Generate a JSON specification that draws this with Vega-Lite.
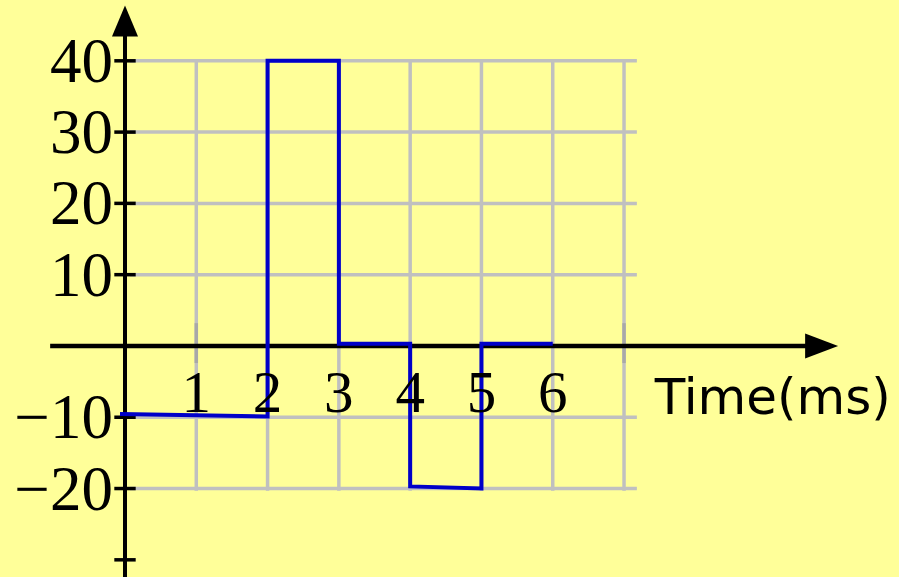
{
  "$schema": "https://vega.github.io/schema/vega-lite/v6.json",
  "width": 899,
  "height": 577,
  "autosize": {"type": "none"},
  "padding": 0,
  "background": "#FFFF99",
  "config": {"view": {"stroke": null, "fill": "#FFFF99"}},
  "datasets": {
    "signal": [
      {"i": 0, "t": -0.07, "v": -9.55},
      {"i": 1, "t": 2, "v": -9.9},
      {"i": 2, "t": 2, "v": 40},
      {"i": 3, "t": 3, "v": 40},
      {"i": 4, "t": 3, "v": 0.3},
      {"i": 5, "t": 4, "v": 0.3},
      {"i": 6, "t": 4, "v": -19.7},
      {"i": 7, "t": 5, "v": -20},
      {"i": 8, "t": 5, "v": 0.3},
      {"i": 9, "t": 6, "v": 0.3}
    ],
    "hgrid": [{"v": -20}, {"v": -10}, {"v": 10}, {"v": 20}, {"v": 30}, {"v": 40}],
    "vgrid": [{"t": 1}, {"t": 2}, {"t": 3}, {"t": 4}, {"t": 5}, {"t": 6}, {"t": 7}],
    "yticks": [{"v": 40}, {"v": 30}, {"v": 20}, {"v": 10}, {"v": -10}, {"v": -20}, {"v": -30}],
    "ylabels": [
      {"v": 40, "label": "40"},
      {"v": 30, "label": "30"},
      {"v": 20, "label": "20"},
      {"v": 10, "label": "10"},
      {"v": -10, "label": "−10"},
      {"v": -20, "label": "−20"}
    ],
    "xlabels": [
      {"t": 1, "label": "1"},
      {"t": 2, "label": "2"},
      {"t": 3, "label": "3"},
      {"t": 4, "label": "4"},
      {"t": 5, "label": "5"},
      {"t": 6, "label": "6"}
    ]
  },
  "layer": [
    {
      "data": {"name": "hgrid"},
      "mark": {"type": "rule", "color": "#C0C0C0", "strokeWidth": 3.5},
      "encoding": {
        "x": {"datum": 0.07, "type": "quantitative", "scale": {"domain": [-1.7534, 10.857], "nice": false, "zero": false}, "axis": null},
        "x2": {"datum": 7.18},
        "y": {"field": "v", "type": "quantitative", "scale": {"domain": [-32.41, 48.53], "nice": false, "zero": false}, "axis": null}
      }
    },
    {
      "data": {"name": "vgrid"},
      "mark": {"type": "rule", "color": "#C0C0C0", "strokeWidth": 3.5},
      "encoding": {
        "x": {"field": "t", "type": "quantitative", "scale": {"domain": [-1.7534, 10.857], "nice": false, "zero": false}, "axis": null},
        "y": {"datum": -20.3, "type": "quantitative", "scale": {"domain": [-32.41, 48.53], "nice": false, "zero": false}, "axis": null},
        "y2": {"datum": 40}
      }
    },
    {
      "data": {"values": [{"t": 1}, {"t": 7}]},
      "mark": {"type": "rule", "color": "#A8A8A8", "strokeWidth": 3.5},
      "encoding": {
        "x": {"field": "t", "type": "quantitative", "scale": {"domain": [-1.7534, 10.857], "nice": false, "zero": false}, "axis": null},
        "y": {"datum": -2.4, "type": "quantitative", "scale": {"domain": [-32.41, 48.53], "nice": false, "zero": false}, "axis": null},
        "y2": {"datum": 3.2}
      }
    },
    {
      "data": {"name": "yticks"},
      "mark": {"type": "rule", "color": "black", "strokeWidth": 3.5},
      "encoding": {
        "x": {"datum": -0.15, "type": "quantitative", "scale": {"domain": [-1.7534, 10.857], "nice": false, "zero": false}, "axis": null},
        "x2": {"datum": 0.15},
        "y": {"field": "v", "type": "quantitative", "scale": {"domain": [-32.41, 48.53], "nice": false, "zero": false}, "axis": null}
      }
    },
    {
      "data": {"values": [{}]},
      "mark": {"type": "rule", "color": "black", "strokeWidth": 4},
      "encoding": {
        "x": {"datum": 0, "type": "quantitative", "scale": {"domain": [-1.7534, 10.857], "nice": false, "zero": false}, "axis": null},
        "y": {"datum": -32.41, "type": "quantitative", "scale": {"domain": [-32.41, 48.53], "nice": false, "zero": false}, "axis": null},
        "y2": {"datum": 43.5}
      }
    },
    {
      "data": {"values": [{}]},
      "mark": {"type": "rule", "color": "black", "strokeWidth": 4.5},
      "encoding": {
        "x": {"datum": -1.05, "type": "quantitative", "scale": {"domain": [-1.7534, 10.857], "nice": false, "zero": false}, "axis": null},
        "x2": {"datum": 9.6},
        "y": {"datum": 0, "type": "quantitative", "scale": {"domain": [-32.41, 48.53], "nice": false, "zero": false}, "axis": null}
      }
    },
    {
      "data": {"values": [{}]},
      "mark": {"type": "point", "shape": "M0,-1L0.42,0L-0.42,0Z", "size": 3844, "filled": true, "color": "black", "opacity": 1, "strokeWidth": 0},
      "encoding": {
        "x": {"datum": 0, "type": "quantitative", "scale": {"domain": [-1.7534, 10.857], "nice": false, "zero": false}, "axis": null},
        "y": {"datum": 43.4, "type": "quantitative", "scale": {"domain": [-32.41, 48.53], "nice": false, "zero": false}, "axis": null}
      }
    },
    {
      "data": {"values": [{}]},
      "mark": {"type": "point", "shape": "M1,0L0,-0.38L0,0.38Z", "size": 4356, "filled": true, "color": "black", "opacity": 1, "strokeWidth": 0},
      "encoding": {
        "x": {"datum": 9.54, "type": "quantitative", "scale": {"domain": [-1.7534, 10.857], "nice": false, "zero": false}, "axis": null},
        "y": {"datum": 0, "type": "quantitative", "scale": {"domain": [-32.41, 48.53], "nice": false, "zero": false}, "axis": null}
      }
    },
    {
      "data": {"name": "signal"},
      "mark": {"type": "line", "color": "#0000C8", "strokeWidth": 4, "strokeJoin": "miter"},
      "encoding": {
        "x": {"field": "t", "type": "quantitative", "scale": {"domain": [-1.7534, 10.857], "nice": false, "zero": false}, "axis": null},
        "y": {"field": "v", "type": "quantitative", "scale": {"domain": [-32.41, 48.53], "nice": false, "zero": false}, "axis": null},
        "order": {"field": "i", "type": "quantitative"}
      }
    },
    {
      "data": {"name": "ylabels"},
      "mark": {"type": "text", "font": "Liberation Serif", "fontSize": 63, "align": "right", "baseline": "alphabetic", "dy": 21, "color": "black"},
      "encoding": {
        "x": {"datum": -0.17, "type": "quantitative", "scale": {"domain": [-1.7534, 10.857], "nice": false, "zero": false}, "axis": null},
        "y": {"field": "v", "type": "quantitative", "scale": {"domain": [-32.41, 48.53], "nice": false, "zero": false}, "axis": null},
        "text": {"field": "label"}
      }
    },
    {
      "data": {"name": "xlabels"},
      "mark": {"type": "text", "font": "Liberation Serif", "fontSize": 59, "align": "center", "baseline": "alphabetic", "dy": 66, "color": "black"},
      "encoding": {
        "x": {"field": "t", "type": "quantitative", "scale": {"domain": [-1.7534, 10.857], "nice": false, "zero": false}, "axis": null},
        "y": {"datum": 0, "type": "quantitative", "scale": {"domain": [-32.41, 48.53], "nice": false, "zero": false}, "axis": null},
        "text": {"field": "label"}
      }
    },
    {
      "data": {"values": [{"label": "Time(ms)"}]},
      "mark": {"type": "text", "font": "DejaVu Sans", "fontSize": 50, "align": "left", "baseline": "alphabetic", "dy": 68, "color": "black"},
      "encoding": {
        "x": {"datum": 7.43, "type": "quantitative", "scale": {"domain": [-1.7534, 10.857], "nice": false, "zero": false}, "axis": null},
        "y": {"datum": 0, "type": "quantitative", "scale": {"domain": [-32.41, 48.53], "nice": false, "zero": false}, "axis": null},
        "text": {"field": "label"}
      }
    }
  ]
}
